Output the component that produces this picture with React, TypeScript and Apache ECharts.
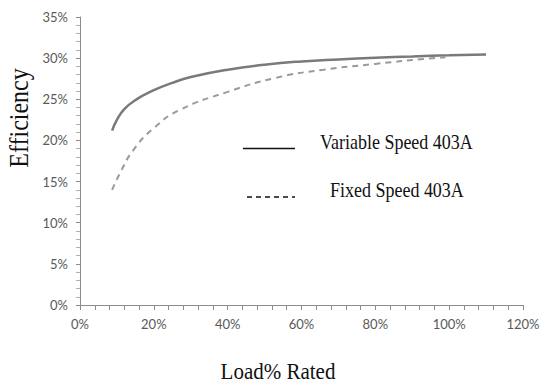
import React, { useEffect, useRef } from "react";
import * as echarts from "echarts";

const variableLoad = [8.7, 10, 12, 15, 20, 25, 30, 40, 50, 60, 70, 80, 90, 100, 110];
const variableEff = [21.2, 22.5, 23.8, 24.9, 26.1, 27.0, 27.7, 28.6, 29.2, 29.6, 29.85, 30.05, 30.2, 30.35, 30.45];
const fixedLoad = [8.7, 10.8, 14.4, 20, 27, 40, 53, 66, 80, 93, 99];
const fixedEff = [14.0, 16.0, 18.8, 21.5, 23.7, 25.9, 27.6, 28.6, 29.3, 29.9, 30.1];
const seriesNames = ["Variable Speed 403A", "Fixed Speed 403A"];
const xTitle = "Load% Rated";
const yTitle = "Efficiency";

export default function App() {
  const ref = useRef<HTMLDivElement>(null);
  useEffect(() => {
    const chart = echarts.init(ref.current!, null, { renderer: "svg" });
    const tickLabel = { color: "#595959", fontFamily: "Lato", fontSize: 13, formatter: "{value}%" };
    const serif = { fontFamily: "Liberation Serif", fill: "#111", textVerticalAlign: "middle" };
    chart.setOption({
      animation: false,
      backgroundColor: "#ffffff",
      grid: { left: 80, right: 27, top: 17, bottom: 84, containLabel: false },
      xAxis: {
        type: "value",
        min: 0,
        max: 120,
        interval: 20,
        axisLine: { show: true, lineStyle: { color: "#8c8c8c", width: 1 } },
        axisTick: { show: true, length: 5, lineStyle: { color: "#8c8c8c" } },
        minorTick: { show: true, splitNumber: 5, length: 5, lineStyle: { color: "#8c8c8c" } },
        splitLine: { show: false },
        axisLabel: { ...tickLabel, margin: 12 },
      },
      yAxis: {
        type: "value",
        min: 0,
        max: 35,
        interval: 5,
        axisLine: { show: true, lineStyle: { color: "#8c8c8c", width: 1 } },
        axisTick: { show: true, length: 4, lineStyle: { color: "#8c8c8c" } },
        minorTick: { show: true, splitNumber: 5, length: 4, lineStyle: { color: "#b0b0b0" } },
        splitLine: { show: false },
        axisLabel: { ...tickLabel, margin: 12 },
      },
      series: [
        {
          name: seriesNames[0],
          type: "line",
          smooth: true,
          showSymbol: false,
          data: variableLoad.map((x, i) => [x, variableEff[i]]),
          lineStyle: { color: "#7a7a7a", width: 2.5, type: "solid" },
        },
        {
          name: seriesNames[1],
          type: "line",
          smooth: true,
          showSymbol: false,
          data: fixedLoad.map((x, i) => [x, fixedEff[i]]),
          lineStyle: { color: "#9a9a9a", width: 2, type: [6, 5] },
        },
      ],
      graphic: [
        { type: "line", shape: { x1: 243, y1: 148.5, x2: 295, y2: 148.5 }, style: { stroke: "#111", lineWidth: 1.5 } },
        {
          type: "text",
          x: 320,
          y: 142,
          scaleY: 1.15,
          style: { ...serif, text: seriesNames[0], fontSize: 18 },
        },
        { type: "line", shape: { x1: 247, y1: 197, x2: 295, y2: 197 }, style: { stroke: "#111", lineWidth: 1.5, lineDash: [5, 4] } },
        {
          type: "text",
          x: 330,
          y: 190,
          scaleY: 1.15,
          style: { ...serif, text: seriesNames[1], fontSize: 18 },
        },
        {
          type: "text",
          x: 278,
          y: 372,
          scaleY: 1.08,
          style: { ...serif, text: xTitle, fontSize: 21, textAlign: "center" },
        },
        {
          type: "text",
          x: 19,
          y: 118,
          rotation: Math.PI / 2,
          scaleY: 1.1,
          style: { ...serif, text: yTitle, fontSize: 24, textAlign: "center" },
        },
      ],
    });
    return () => chart.dispose();
  }, []);
  return <div ref={ref} style={{ width: 550, height: 389, position: "absolute", left: 0, top: 0 }} />;
}
